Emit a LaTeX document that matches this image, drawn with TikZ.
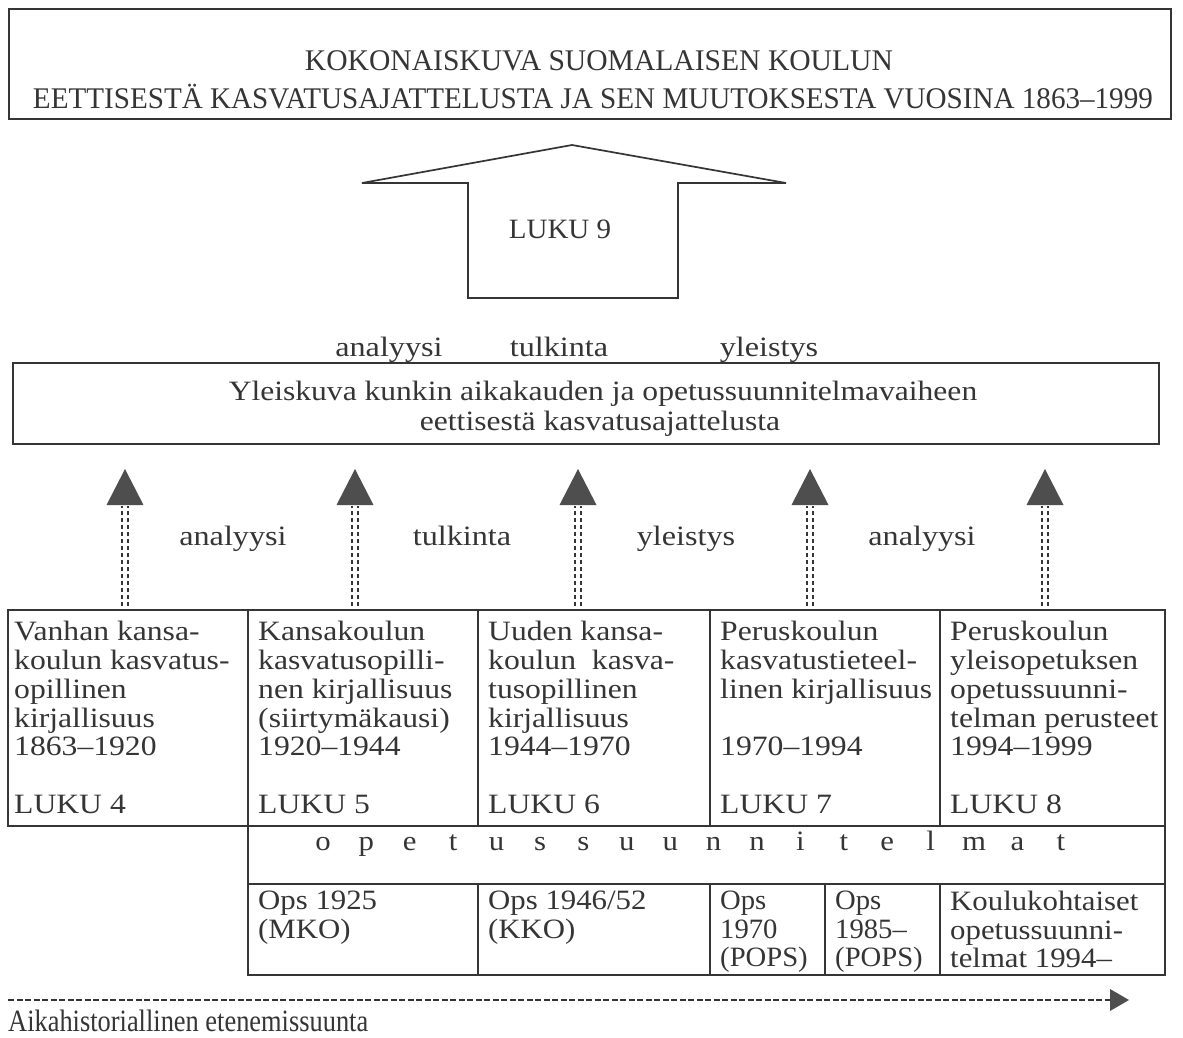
\documentclass[tikz,border=0pt]{standalone}
\usepackage{fontspec}
\setmainfont{Liberation Serif}
\usepackage{graphicx}
\usetikzlibrary{calc}

\definecolor{ink}{HTML}{353535}
\definecolor{head}{HTML}{4E4E4E}

\tikzset{
  frame/.style={draw=ink, line width=1.7pt},
  cellbox/.style={draw=ink, line width=1.7pt, anchor=north west, inner sep=0pt, outer sep=0pt},
  celltext/.style={anchor=north west, inner sep=0pt, text=ink, align=left,
                   font=\fontsize{28}{28.8}\selectfont, xscale=1.13, transform shape},
  opstext/.style={anchor=north west, inner sep=0pt, text=ink, align=left,
                  font=\fontsize{28}{28.5}\selectfont, xscale=1.1, transform shape},
  lbl/.style={text=ink, inner sep=0pt, font=\fontsize{28}{30}\selectfont, xscale=1.15, transform shape},
  dashline/.style={draw=ink, line width=1.3pt, dash pattern=on 4.5pt off 2.5pt},
}

\begin{document}
\begin{tikzpicture}[x=1pt, y=-1pt]
\useasboundingbox (0,0) rectangle (1183,1037);
\fill[white] (0,0) rectangle (1183,1037);

% title frame
\node[frame, anchor=north west, minimum width=1162pt, minimum height=110pt, inner sep=0pt] (title) at (8,8) {};
\node[text=ink, inner sep=0pt, anchor=base, font=\fontsize{30}{32}\selectfont] (t1) at (599,70)
  {\resizebox{588pt}{\height}{KOKONAISKUVA SUOMALAISEN KOULUN}};
\node[text=ink, inner sep=0pt, anchor=base, font=\fontsize{30}{32}\selectfont] (t2) at (593,108)
  {\resizebox{1120pt}{\height}{EETTISESTÄ KASVATUSAJATTELUSTA JA SEN MUUTOKSESTA VUOSINA 1863–1999}};

% block arrow towards the overall picture
\draw[ink, line width=1.7pt, line join=miter]
  (468,298) -- (468,183) -- (362,183) -- (572,145) -- (786,183) -- (678,183) -- (678,298) -- cycle;
\node[lbl, xscale=0.9, anchor=base] (luku9) at (560,238) {LUKU 9};

% labels above the overview box
\node[lbl, anchor=base] (a1) at (389,356) {analyysi};
\node[lbl, anchor=base] (a2) at (559,356) {tulkinta};
\node[lbl, anchor=base] (a3) at (769,356) {yleistys};

% overview box
\node[frame, anchor=north west, minimum width=1146pt, minimum height=81pt, inner sep=0pt] (mid) at (12,362) {};
\node[lbl, anchor=base, xscale=0.98] (midtext1) at (603,400)
  {Yleiskuva kunkin aikakauden ja opetussuunnitelmavaiheen};
\node[lbl, anchor=base, xscale=0.98] (midtext2) at (600,430)
  {eettisestä kasvatusajattelusta};

% period cells
\node[cellbox, minimum width=240pt, minimum height=216pt] (c1) at (8,610) {};
\node[cellbox, minimum width=230pt, minimum height=216pt] (c2) at (248,610) {};
\node[cellbox, minimum width=232pt, minimum height=216pt] (c3) at (478,610) {};
\node[cellbox, minimum width=230pt, minimum height=216pt] (c4) at (710,610) {};
\node[cellbox, minimum width=225pt, minimum height=216pt] (c5) at (940,610) {};

\node[celltext] at ([xshift=6pt, yshift=-11pt]c1.north west)
  {Vanhan kansa-\\koulun kasvatus-\\opillinen\\kirjallisuus\\1863–1920\\[28.8pt]LUKU 4};
\node[celltext] at ([xshift=10pt, yshift=-11pt]c2.north west)
  {Kansakoulun\\kasvatusopilli-\\nen kirjallisuus\\(siirtymäkausi)\\1920–1944\\[28.8pt]LUKU 5};
\node[celltext] at ([xshift=10pt, yshift=-11pt]c3.north west)
  {Uuden kansa-\\koulun\ \ kasva-\\tusopillinen\\kirjallisuus\\1944–1970\\[28.8pt]LUKU 6};
\node[celltext] at ([xshift=10pt, yshift=-11pt]c4.north west)
  {Peruskoulun\\kasvatustieteel-\\linen kirjallisuus\\[28.8pt]1970–1994\\[28.8pt]LUKU 7};
\node[celltext] at ([xshift=10pt, yshift=-11pt]c5.north west)
  {Peruskoulun\\yleisopetuksen\\opetussuunni-\\telman perusteet\\1994–1999\\[28.8pt]LUKU 8};

% curricula band
\node[cellbox, minimum width=917pt, minimum height=58pt] (ops) at (248,826) {};
\foreach \ch [count=\i from 0] in {o,p,e,t,u,s,s,u,u,n,n,i,t,e,l,m,a,t}
  \node[text=ink, inner sep=0pt, anchor=base, font=\fontsize{28}{30}\selectfont, xscale=1.1, transform shape]
    at ($(323,850)+(\i*43.4,0)$) {\ch};

% curricula cells
\node[cellbox, minimum width=230pt, minimum height=91pt] (o1) at (248,884) {};
\node[cellbox, minimum width=232pt, minimum height=91pt] (o2) at (478,884) {};
\node[cellbox, minimum width=115pt, minimum height=91pt] (o3) at (710,884) {};
\node[cellbox, minimum width=115pt, minimum height=91pt] (o4) at (825,884) {};
\node[cellbox, minimum width=225pt, minimum height=91pt] (o5) at (940,884) {};

\node[opstext] at ([xshift=10pt, yshift=-7pt]o1.north west) {Ops 1925\\(MKO)};
\node[opstext] at ([xshift=10pt, yshift=-7pt]o2.north west) {Ops 1946/52\\(KKO)};
\node[opstext, xscale=0.93] at ([xshift=10pt, yshift=-7pt]o3.north west) {Ops\\1970\\(POPS)};
\node[opstext, xscale=0.93] at ([xshift=10pt, yshift=-7pt]o4.north west) {Ops\\1985–\\(POPS)};
\node[opstext] at ([xshift=10pt, yshift=-7pt]o5.north west) {Koulukohtaiset\\opetussuunni-\\telmat 1994–};

% dashed double arrows from the cells up to the overview box
\foreach \n/\x in {1/125, 2/355, 3/578, 4/810, 5/1045} {
  \coordinate (base\n) at (\x,606);
  \coordinate (tip\n) at (\x,469);
  \draw[dashline] ([xshift=-3pt]base\n) -- ([xshift=-3pt, yshift=100pt]base\n);
  \draw[dashline] ([xshift=3pt]base\n) -- ([xshift=3pt, yshift=100pt]base\n);
  \fill[head] (tip\n) -- ([xshift=18.5pt, yshift=-36pt]tip\n) -- ([xshift=-18.5pt, yshift=-36pt]tip\n) -- cycle;
}

\node[lbl, anchor=base] (b1) at (233,545) {analyysi};
\node[lbl, anchor=base] (b2) at (462,545) {tulkinta};
\node[lbl, anchor=base] (b3) at (686,545) {yleistys};
\node[lbl, anchor=base] (b4) at (922,545) {analyysi};

% time direction arrow
\coordinate (timeS) at (8,1000);
\coordinate (timeE) at (1110,1000);
\draw[draw=ink, line width=2.8pt, dash pattern=on 6pt off 2.5pt] (timeS) -- (timeE);
\fill[head] ([yshift=11pt]timeE) -- ([xshift=19pt]timeE) -- ([yshift=-11pt]timeE) -- cycle;
\node[text=ink, inner sep=0pt, anchor=base west, font=\fontsize{31}{32}\selectfont] (timelbl) at (8,1031)
  {\resizebox{360pt}{\height}{Aikahistoriallinen etenemissuunta}};

\end{tikzpicture}
\end{document}
